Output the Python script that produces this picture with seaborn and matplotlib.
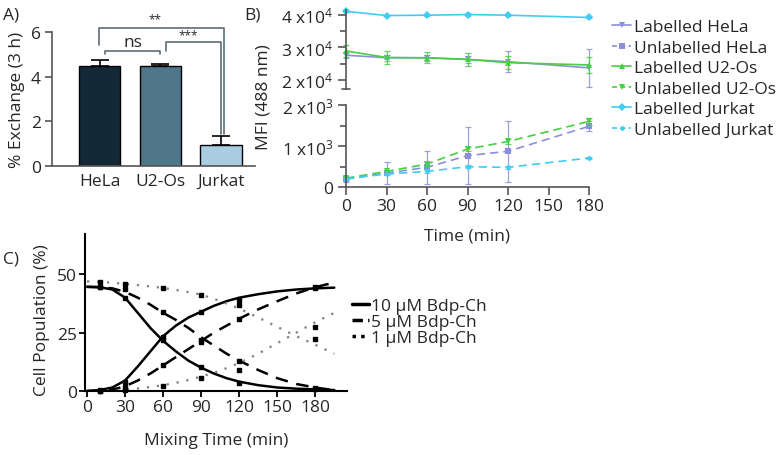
import numpy as np
import pandas as pd
import matplotlib
matplotlib.use("Agg")
import matplotlib.pyplot as plt
from matplotlib.lines import Line2D
import seaborn as sns

# ---------------- data ----------------
# Panel A
cells = ["HeLa", "U2-Os", "Jurkat"]
exchange = [4.5, 4.5, 0.93]
exchange_err = [0.25, 0.06, 0.42]
bar_colors = ["#0e2a3e", "#467b93", "#9fd0ea"]

# Panel B
time_b = [0, 30, 60, 90, 120, 180]
lab_hela = [27600, 26800, 26800, 26300, 25600, 23700]
lab_hela_err = [800, 900, 900, 1000, 3300, 5900]
unlab_hela = [190, 340, 480, 765, 870, 1480]
unlab_hela_err = [60, 270, 400, 690, 740, 120]
lab_u2os = [28900, 26900, 26800, 26300, 25300, 24600]
lab_u2os_err = [1900, 2000, 1700, 2000, 2000, 2500]
unlab_u2os = [215, 380, 560, 925, 1110, 1600]
unlab_u2os_err = [30, 40, 50, 40, 50, 90]
lab_jurkat = [41100, 39800, 39900, 40100, 39900, 39200]
lab_jurkat_err = [300, 200, 200, 400, 200, 200]
unlab_jurkat = [200, 317, 380, 495, 480, 707]
unlab_jurkat_err = [20, 20, 30, 30, 30, 20]
b_labels = ["Labelled HeLa", "Unlabelled HeLa", "Labelled U2-Os",
            "Unlabelled U2-Os", "Labelled Jurkat", "Unlabelled Jurkat"]
col_hela = "#8c90dc"
col_u2os = "#45d045"
col_jurkat = "#40cdf2"

# Panel C (curves)
t_curve = [0, 10, 20, 30, 40, 50, 60, 70, 80, 90, 100, 110, 120, 135, 150, 165, 180, 195]
c10_dec = [44.7, 44.5, 43.5, 40.0, 33.5, 27.0, 21.5, 17.0, 13.0, 10.0, 7.5, 5.5, 4.0, 2.5, 1.5, 1.0, 0.7, 0.4]
c10_inc = [0.0, 0.4, 1.5, 4.5, 10.5, 17.0, 23.5, 28.0, 31.5, 34.0, 36.5, 38.5, 40.0, 41.5, 42.7, 43.5, 44.0, 44.3]
c5_dec = [44.6, 44.5, 44.0, 42.5, 40.0, 37.0, 33.5, 30.5, 27.0, 23.0, 19.5, 16.0, 13.0, 9.0, 5.5, 3.0, 1.5, 0.3]
c5_inc = [0.0, 0.1, 0.6, 2.0, 4.5, 7.5, 11.0, 14.5, 18.0, 21.5, 25.0, 28.0, 31.0, 35.0, 38.5, 41.8, 44.5, 46.5]
c1_dec = [47.0, 46.8, 46.4, 45.9, 45.4, 44.8, 44.2, 43.3, 42.4, 41.3, 39.5, 37.5, 35.3, 31.5, 27.5, 23.5, 19.8, 16.0]
c1_inc = [0.0, 0.1, 0.3, 0.6, 1.1, 1.7, 2.5, 3.5, 4.7, 6.2, 7.8, 9.8, 12.0, 16.0, 20.5, 25.0, 29.5, 33.5]
t_pts = [10, 30, 60, 90, 120, 180]
p10_dec = [44.5, 40.0, 22.0, 10.5, 3.5, 0.7]
p10_inc = [0.3, 4.0, 23.0, 34.0, 39.0, 44.0]
p5_dec = [44.5, 43.7, 34.0, 22.0, 13.0, 1.5]
p5_inc = [0.0, 1.7, 11.0, 21.0, 31.0, 44.5]
p1_dec = [46.8, 45.9, 44.2, 41.3, 37.0, 22.3]
p1_inc = [0.0, 0.5, 2.3, 5.6, 9.0, 27.6]
c_labels = ["10 \u00b5M Bdp-Ch", "5 \u00b5M Bdp-Ch", "1 \u00b5M Bdp-Ch"]

# ---------------- style ----------------
sns.set_theme(style="ticks")
FONT = "Open Sans"
plt.rcParams["font.family"] = [FONT, "DejaVu Sans"]
plt.rcParams["mathtext.fontset"] = "custom"
plt.rcParams["mathtext.rm"] = FONT
plt.rcParams["mathtext.default"] = "regular"
FS = 12.5
SP = "#555555"

W, H = 784, 456
fig = plt.figure(figsize=(W / 100, H / 100), dpi=100)


def rect(l, t, r, b):
    return [l / W, 1 - b / H, (r - l) / W, (b - t) / H]


# ---------------- Panel A ----------------
axA = fig.add_axes(rect(52, 33, 255, 167))
sns.barplot(x=cells, y=exchange, hue=cells, palette=bar_colors, legend=False,
            width=0.68, edgecolor="black", linewidth=1, errorbar=None, ax=axA)
axA.errorbar(x=[0, 1, 2], y=exchange, yerr=[[0, 0, 0], exchange_err], fmt="none",
             ecolor="black", elinewidth=1.2, capsize=6.5, capthick=1.2)
axA.set_xlim(-0.79, 2.56)
axA.set_ylim(0, 6)
axA.set_yticks([0, 2, 4, 6])
axA.set_ylabel("% Exchange (3 h)", fontsize=FS, labelpad=4)
sns.despine(ax=axA)
for s in ["left", "bottom"]:
    axA.spines[s].set_color(SP)
    axA.spines[s].set_linewidth(1.2)
axA.tick_params(axis="x", length=0, labelsize=FS, pad=5)
axA.tick_params(axis="y", length=5, width=1.2, color=SP, labelsize=FS, pad=3)
bc = "#5b6d78"
kw = dict(color=bc, lw=1.2, clip_on=False)
axA.plot([0.08, 0.08, 1.0, 1.0], [5.0, 5.15, 5.15, 5.0], **kw)
axA.plot([1.09, 1.09, 2.0, 2.0], [5.15, 5.55, 5.55, 1.43], **kw)
axA.plot([-0.02, -0.02, 2.05, 2.05], [5.4, 6.2, 6.2, 1.43], **kw)
axA.text(0.55, 5.2, "ns", ha="center", va="bottom", fontsize=FS)
axA.text(1.46, 5.6, "***", ha="center", va="bottom", fontsize=8.5)
axA.text(0.91, 6.3, "**", ha="center", va="bottom", fontsize=8.5)
fig.text(11 / W, 1 - 15 / H, "A)", fontsize=FS, ha="center", va="center")

# ---------------- Panel B ----------------
axBu = fig.add_axes(rect(346, 11, 589, 90))
axBl = fig.add_axes(rect(346, 106, 589, 188))

series = [
    (axBu, lab_hela, lab_hela_err, col_hela, "v", "-", 4.5, b_labels[0]),
    (axBl, unlab_hela, unlab_hela_err, col_hela, "s", "--", 4.5, b_labels[1]),
    (axBu, lab_u2os, lab_u2os_err, col_u2os, "^", "-", 4.5, b_labels[2]),
    (axBl, unlab_u2os, unlab_u2os_err, col_u2os, "v", "--", 4.5, b_labels[3]),
    (axBu, lab_jurkat, lab_jurkat_err, col_jurkat, "D", "-", 4, b_labels[4]),
    (axBl, unlab_jurkat, unlab_jurkat_err, col_jurkat, "D", "--", 3, b_labels[5]),
]
handles = []
for ax, vals, err, col, mk, ls, ms, lab in series:
    ax.errorbar(time_b, vals, yerr=err, fmt="none", ecolor=col, elinewidth=0.9,
                capsize=2.5, capthick=0.9, clip_on=False, alpha=0.85)
    sns.lineplot(x=time_b, y=vals, color=col, marker=mk, markersize=ms,
                 markeredgewidth=0, linewidth=1.2, ax=ax, clip_on=False)
    ln = ax.lines[-1]
    if ls == "--":
        ln.set_dashes([5, 3])
    handles.append(Line2D([0], [0], color=col, marker=mk, markersize=ms,
                          markeredgewidth=0, lw=1.2,
                          dashes=[3, 2] if ls == "--" else (None, None)))

for ax in (axBu, axBl):
    if ax.get_legend() is not None:
        ax.get_legend().remove()
    ax.set_xlim(0, 180)
    ax.set_xlabel("")
    ax.set_ylabel("")
    for s in ["top", "right"]:
        ax.spines[s].set_visible(False)
    ax.spines["left"].set_color(SP)
    ax.spines["left"].set_linewidth(1.2)
    ax.tick_params(axis="y", which="major", length=6, width=1.2, color=SP, labelsize=FS, pad=3)
    ax.tick_params(axis="y", which="minor", length=4, width=1.2, color=SP)

axBu.spines["bottom"].set_visible(False)
axBu.set_ylim(17200, 41500)
axBu.set_yticks([20000, 30000, 40000])
axBu.set_yticklabels([r"2 x10$^{4}$", r"3 x10$^{4}$", r"4 x10$^{4}$"])
axBu.set_yticks([25000, 35000], minor=True)
axBu.set_xticks([])
axBu.plot([-0.018, 0.018], [0, 0], transform=axBu.transAxes, color=SP, lw=1.2, clip_on=False)

axBl.set_ylim(0, 2000)
axBl.set_yticks([0, 1000, 2000])
axBl.set_yticklabels(["0", r"1 x10$^{3}$", r"2 x10$^{3}$"])
axBl.set_yticks([500, 1500], minor=True)
axBl.set_xticks([0, 30, 60, 90, 120, 150, 180])
axBl.spines["bottom"].set_color(SP)
axBl.spines["bottom"].set_linewidth(1.2)
axBl.tick_params(axis="x", length=6, width=1.2, color=SP, labelsize=FS, pad=2)
axBl.set_xlabel("Time (min)", fontsize=FS, labelpad=10)
fig.text(263 / W, 1 - 97 / H, "MFI (488 nm)", rotation=90, fontsize=FS,
         ha="center", va="center")
fig.text(252 / W, 1 - 15 / H, "B)", fontsize=FS, ha="center", va="center")
fig.legend(handles, b_labels, loc="upper left", bbox_to_anchor=(612 / W, 1 - 20 / H),
           frameon=False, fontsize=FS, handlelength=1.1, handletextpad=0.15,
           labelspacing=0.25, borderpad=0, borderaxespad=0)

# ---------------- Panel C ----------------
axC = fig.add_axes(rect(85, 235, 347, 392))
curve_sets = [
    (c10_dec, c10_inc, p10_dec, p10_inc, dict(color="black", lw=1.8, ls="-")),
    (c5_dec, c5_inc, p5_dec, p5_inc, dict(color="black", lw=1.8, dashes=[5, 3.5])),
    (c1_dec, c1_inc, p1_dec, p1_inc, dict(color="#808080", lw=1.6, dashes=[1, 3.5])),
]
for cdec, cinc, pdec, pinc, st in curve_sets:
    for cv in (cdec, cinc):
        sns.lineplot(x=t_curve, y=cv, ax=axC, **st)
    axC.plot(t_pts, pdec, ls="none", marker="s", ms=2.5, color="black", clip_on=False)
    axC.plot(t_pts, pinc, ls="none", marker="s", ms=2.5, color="black", clip_on=False)
axC.set_xlim(-1.6, 205)
axC.set_ylim(0, 67.3)
axC.set_xticks([0, 30, 60, 90, 120, 150, 180])
axC.set_yticks([0, 25, 50])
sns.despine(ax=axC)
for s in ["left", "bottom"]:
    axC.spines[s].set_color("black")
    axC.spines[s].set_linewidth(1.5)
axC.tick_params(axis="both", length=4, width=1.3, color="black", labelsize=FS, pad=2)
axC.set_xlabel("Mixing Time (min)", fontsize=FS, labelpad=12)
axC.set_ylabel("")
fig.text(42 / W, 1 - 320 / H, "Cell Population (%)", rotation=90, fontsize=FS,
         ha="center", va="center")
fig.text(11 / W, 1 - 260 / H, "C)", fontsize=FS, ha="center", va="center")
c_handles = [Line2D([0], [0], color="black", lw=2.5),
             Line2D([0], [0], color="black", lw=2.5, dashes=[3, 1.5]),
             Line2D([0], [0], color="black", lw=2.5, dashes=[1, 1.5])]
fig.legend(c_handles, c_labels, loc="upper left", bbox_to_anchor=(352 / W, 1 - 299 / H),
           frameon=False, fontsize=FS, handlelength=1.0, handletextpad=0.1,
           labelspacing=0.0, borderpad=0, borderaxespad=0)

fig.savefig("out.png", dpi=100)
